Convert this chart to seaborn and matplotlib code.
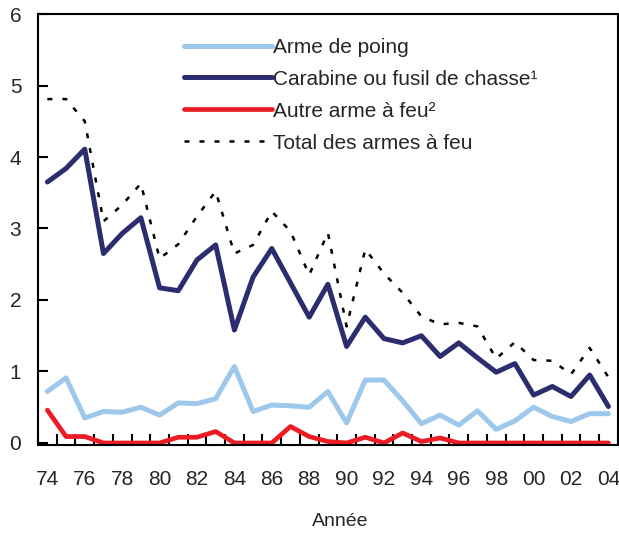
import numpy as np
import pandas as pd
import matplotlib
matplotlib.use("Agg")
import matplotlib.pyplot as plt
from matplotlib.ticker import MultipleLocator, FixedLocator
import seaborn as sns

# years 1974-2004 (2000 -> 100 so the axis stays numeric)
years = list(range(74, 105))

arme_poing = [0.72, 0.91, 0.35, 0.44, 0.43, 0.50, 0.39, 0.56, 0.55, 0.62,
              1.07, 0.44, 0.53, 0.52, 0.50, 0.72, 0.28, 0.88, 0.88, 0.59,
              0.27, 0.39, 0.25, 0.45, 0.19, 0.31, 0.50, 0.37, 0.30, 0.41, 0.41]
carabine = [3.65, 3.84, 4.11, 2.65, 2.93, 3.15, 2.17, 2.13, 2.56, 2.77,
            1.58, 2.32, 2.72, 2.24, 1.76, 2.22, 1.35, 1.76, 1.46, 1.40,
            1.50, 1.21, 1.40, 1.19, 0.99, 1.11, 0.67, 0.79, 0.65, 0.95, 0.51]
autre = [0.46, 0.09, 0.09, 0.0, 0.0, 0.0, 0.0, 0.08, 0.08, 0.16,
         0.0, 0.0, 0.0, 0.23, 0.09, 0.02, 0.0, 0.08, 0.0, 0.14,
         0.02, 0.07, 0.0, 0.0, 0.0, 0.0, 0.0, 0.0, 0.0, 0.0, 0.0]
total = [4.81, 4.81, 4.50, 3.10, 3.33, 3.63, 2.58, 2.78, 3.17, 3.52,
         2.65, 2.77, 3.24, 2.96, 2.35, 2.94, 1.63, 2.71, 2.37, 2.10,
         1.77, 1.66, 1.68, 1.63, 1.18, 1.41, 1.16, 1.15, 0.96, 1.33, 0.92]

labels = ["Arme de poing", "Carabine ou fusil de chasse\u00b9",
          "Autre arme \u00e0 feu\u00b2", "Total des armes \u00e0 feu"]

df = pd.DataFrame({"annee": years, labels[0]: arme_poing, labels[1]: carabine,
                   labels[2]: autre, labels[3]: total})

sns.set_style("white")
plt.rcParams["font.family"] = ["Liberation Sans", "DejaVu Sans"]

fig = plt.figure(figsize=(6.19, 5.33), dpi=100)
ax = fig.add_axes([0.0614, 0.1689, 0.9366, 0.8048])

sns.lineplot(data=df, x="annee", y=labels[0], ax=ax, color="#9dc8eb", lw=3.6, label=labels[0])
sns.lineplot(data=df, x="annee", y=labels[1], ax=ax, color="#2b2d6e", lw=3.6, label=labels[1])
sns.lineplot(data=df, x="annee", y=labels[2], ax=ax, color="#ec1c24", lw=3.4, label=labels[2])
sns.lineplot(data=df, x="annee", y=labels[3], ax=ax, color="black", lw=1.8,
             dashes=(2.0, 4.0), label=labels[3])
# red line sits on the axis at zero, keep it visible
ax.lines[2].set_clip_on(False)

ax.set_xlim(73.5, 104.5)
ax.set_ylim(0, 6)
ax.set_xlabel("")
ax.set_ylabel("")

ax.xaxis.set_major_locator(FixedLocator(years[::2]))
ax.set_xticklabels([f"{y % 100:02d}" for y in years[::2]])
ax.xaxis.set_minor_locator(MultipleLocator(1, offset=0.5))
ax.tick_params(axis="x", which="major", length=0, pad=18, labelsize=15)
ax.tick_params(axis="x", which="minor", direction="in", length=8, width=1.5,
               bottom=True, color="black")
ax.yaxis.set_major_locator(MultipleLocator(1))
ax.tick_params(axis="y", which="major", direction="in", length=7, width=1.5,
               left=True, pad=12, labelsize=15, color="black")

for sp in ax.spines.values():
    sp.set_color("black")
    sp.set_linewidth(1.5)
ax.spines["bottom"].set_position(("outward", 1.5))

leg = ax.legend(loc="upper left", bbox_to_anchor=(0.2375, 0.964), frameon=False,
                fontsize=15, handlelength=4.2, handletextpad=0.05,
                labelspacing=0.62, borderaxespad=0)

fig.text(340 / 619, 1 - 521 / 533, "Ann\u00e9e", ha="center", va="center", fontsize=14)

fig.savefig("out.png", dpi=100)
